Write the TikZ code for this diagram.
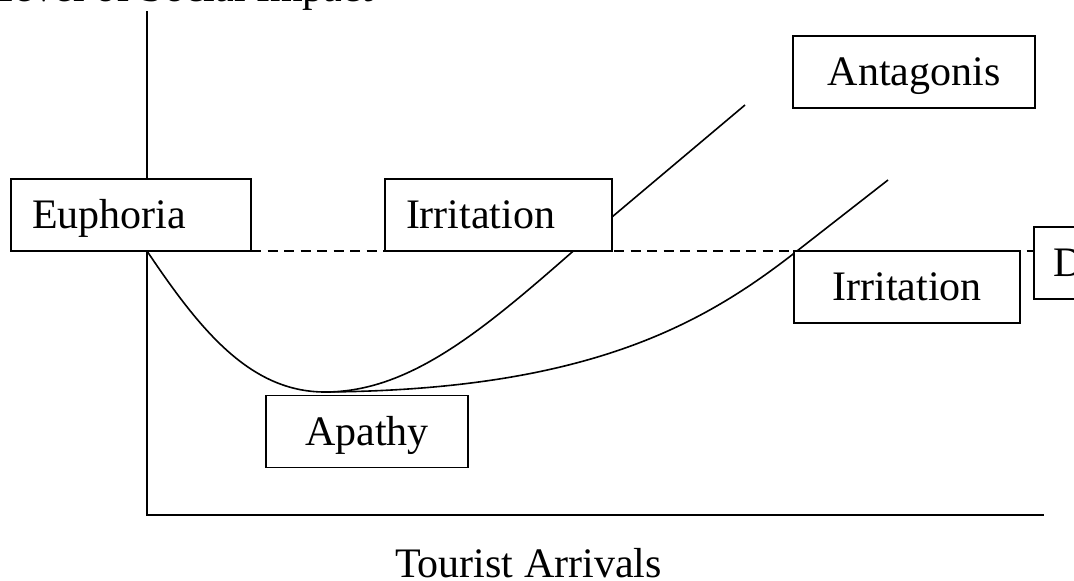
\documentclass[tikz,border=0pt]{standalone}
\usepackage{fontspec}
\setmainfont{Liberation Serif}
\usetikzlibrary{backgrounds}
\begin{document}
\begin{tikzpicture}[x=1pt,y=-1pt,
  every node/.style={font=\fontsize{42}{50}\selectfont},
  stage/.style={draw, fill=white, line width=1.6pt, outer sep=0pt,
    minimum height=72pt, text height=30pt, text depth=3pt, inner ysep=0pt},
  leftstage/.style={stage, inner xsep=21pt, align=left},
  midstage/.style={stage, inner xsep=0pt, minimum width=#1},
  curve/.style={line width=1.6pt},
  axis/.style={line width=1.8pt},
  guide/.style={line width=1.6pt, dash pattern=on 10pt off 6.5pt},
]
\useasboundingbox (0,0) rectangle (1074,581);

% stage boxes
\node[leftstage, text width=198pt] (euph) at (131,215) {Euphoria};
\node[leftstage, text width=185pt] (irr1) at (498.5,215) {Irritation};
\node[midstage=242pt] (ant) at (914,72) {Antagonis};
\node[midstage=226pt] (irr2) at (907,287) {Irritation};
\node[midstage=202pt] (apa) at (367,431.5) {Apathy};
\node[stage, inner xsep=19pt, text width=62pt, align=left] (dbox) at (1084,263) {D};

% axis labels
\node[anchor=base west, inner sep=0pt] (ylab) at (-11,1) {Level of Social Impact};
\node[anchor=base west, inner sep=0pt] (xlab) at (395,577) {Tourist Arrivals};

% axes and curves
\coordinate (ytop) at (147,11);
\coordinate (orig) at (147,515);
\coordinate (xend) at (1044,515);
\coordinate (low) at (325,392);
\coordinate (hi1) at (745,105);
\coordinate (hi2) at (888,180);

\begin{scope}[on background layer]
  \draw[axis] (ytop) -- (orig) -- (xend);
  \draw[guide] (euph.south east) -- (euph.south east -| dbox.west);
  \draw[curve] (orig |- euph.south) .. controls (200,330) and (250,392) .. (low)
    .. controls (420,392) and (500,315) .. (612,217) -- (hi1);
  \draw[curve] (low) .. controls (590,390) and (705,323) .. (797,251) -- (hi2);
\end{scope}
\end{tikzpicture}
\end{document}
